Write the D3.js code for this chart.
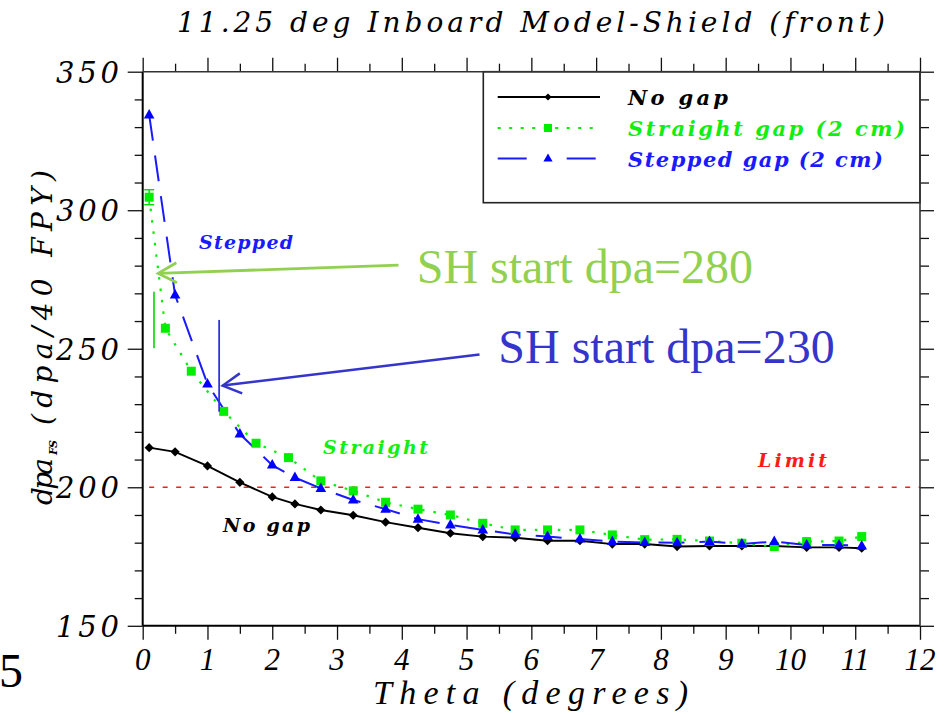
<!DOCTYPE html>
<html>
<head>
<meta charset="utf-8">
<script src="https://cdn.jsdelivr.net/npm/d3@7"></script>
<style>
  html, body { margin: 0; padding: 0; background: #fff; }
  svg { display: block; }
  .tm { font-family: "Liberation Serif", "Times New Roman", Tinos; }
  .dv { font-family: "DejaVu Serif"; }
  .it { font-style: italic; }
  .bd { font-weight: bold; }
</style>
</head>
<body>
<svg id="chart" width="951" height="715"></svg>
<script>
// Front-shield damage (dpa per 40 FPY) versus poloidal angle theta
const noGapTheta = [0.1, 0.5, 1.0, 1.5, 2.0, 2.35, 2.75, 3.25, 3.75, 4.25, 4.75, 5.25, 5.75, 6.25, 6.75, 7.25, 7.75, 8.25, 8.75, 9.25, 9.75, 10.25, 10.75, 11.1];
const noGapDpa = [214.3, 212.8, 207.7, 201.8, 196.5, 194.0, 191.8, 189.9, 187.4, 185.4, 183.4, 182.2, 181.8, 180.7, 180.7, 179.5, 179.5, 178.6, 178.8, 178.8, 178.8, 178.3, 178.3, 178.0];

const straightTheta = [0.1, 0.35, 0.75, 1.25, 1.75, 2.25, 2.75, 3.25, 3.75, 4.25, 4.75, 5.25, 5.75, 6.25, 6.75, 7.25, 7.75, 8.25, 8.75, 9.25, 9.75, 10.25, 10.75, 11.1];
const straightDpa = [304.7, 257.4, 241.9, 227.4, 215.9, 210.7, 202.3, 198.7, 194.6, 192.1, 190.0, 187.0, 184.6, 184.6, 184.6, 182.8, 181.1, 181.2, 180.6, 179.8, 178.6, 180.4, 180.6, 182.2];
const straightErrTheta = [0.1];
const straightErrLow = [302.0];
const straightErrHigh = [307.4];

const steppedTheta = [0.1, 0.5, 1.0, 1.5, 2.0, 2.35, 2.75, 3.25, 3.75, 4.25, 4.75, 5.25, 5.75, 6.25, 6.75, 7.25, 7.75, 8.25, 8.75, 9.25, 9.75, 10.25, 10.75, 11.1];
const steppedDpa = [334.4, 269.4, 237.3, 219.2, 208.0, 203.5, 199.6, 195.4, 192.1, 188.5, 186.4, 184.6, 183.0, 182.2, 181.3, 180.4, 180.1, 180.0, 180.4, 179.5, 180.4, 179.2, 179.2, 178.8];

const dpaLimit = 200;
const xTickValues = [0, 1, 2, 3, 4, 5, 6, 7, 8, 9, 10, 11, 12];
const yTickValues = [150, 200, 250, 300, 350];
const legendLabels = ["No gap", "Straight gap (2 cm)", "Stepped gap (2 cm)"];
const shStartLabels = ["SH start dpa=280", "SH start dpa=230"];

const svg = d3.select("#chart");
const plotL = 142.7, plotR = 920, plotT = 71.7, plotB = 625.8;
const x = d3.scaleLinear().domain([0, 12]).range([plotL, plotR]);
const y = d3.scaleLinear().domain([150, 350]).range([plotB, plotT]);

// ---- title ----
svg.append("text")
  .attr("class", "dv it")
  .attr("x", 177).attr("y", 32)
  .attr("textLength", 708).attr("lengthAdjust", "spacing")
  .style("font-size", "28px").attr("fill", "#000")
  .text("11.25 deg Inboard Model-Shield (front)");

// ---- ticks (outward on all four sides) ----
const majorLen = 14, minorLen = 8;
const xMinor = d3.range(0.5, 12, 1);
const yMinor = d3.range(150, 351, 10).filter(v => v % 50 !== 0);

function tickAxis(axisFn, scale, values, size, at) {
  const g = svg.append("g")
    .attr("transform", at)
    .call(axisFn(scale).tickValues(values).tickSize(size).tickSizeOuter(0).tickFormat(""));
  g.select(".domain").remove();
  g.selectAll("line").attr("stroke", "#111").attr("stroke-width", 1.3);
  return g;
}
tickAxis(d3.axisBottom, x, xTickValues, majorLen, `translate(0,${plotB})`);
tickAxis(d3.axisBottom, x, xMinor, minorLen, `translate(0,${plotB})`);
tickAxis(d3.axisTop, x, xTickValues, majorLen, `translate(0,${plotT})`);
tickAxis(d3.axisTop, x, xMinor, minorLen, `translate(0,${plotT})`);
tickAxis(d3.axisLeft, y, yTickValues, majorLen + 1, `translate(${plotL},0)`);
tickAxis(d3.axisLeft, y, yMinor, minorLen, `translate(${plotL},0)`);
tickAxis(d3.axisRight, y, yTickValues, majorLen, `translate(${plotR},0)`);
tickAxis(d3.axisRight, y, yMinor, minorLen + 1, `translate(${plotR},0)`);

// tick labels
svg.append("g").selectAll("text").data(xTickValues).join("text")
  .attr("class", "tm it")
  .attr("x", d => x(d)).attr("y", 670)
  .attr("text-anchor", "middle")
  .style("font-size", "31px").attr("fill", "#000")
  .text(d => d);

svg.append("g").selectAll("text").data(yTickValues).join("text")
  .attr("class", "dv it")
  .attr("x", 119).attr("y", d => y(d) + 11)
  .attr("text-anchor", "end")
  .attr("textLength", 63).attr("lengthAdjust", "spacing")
  .style("font-size", "29px").attr("fill", "#000")
  .text(d => d);

// axis titles
svg.append("text")
  .attr("class", "tm it")
  .attr("x", 373).attr("y", 704)
  .attr("textLength", 315).attr("lengthAdjust", "spacing")
  .style("font-size", "34px").attr("fill", "#000")
  .text("Theta (degrees)");

const yTitle = svg.append("g").attr("transform", "translate(52,505) rotate(-90)");
yTitle.append("text").attr("class", "dv it").attr("x", 0).attr("y", 0)
  .attr("textLength", 47).attr("lengthAdjust", "spacing")
  .style("font-size", "28px")
  .text("dpa");
yTitle.append("text").attr("class", "dv it bd").attr("x", 50).attr("y", 5)
  .attr("textLength", 15).attr("lengthAdjust", "spacing")
  .style("font-size", "11px")
  .text("FS");
yTitle.append("text").attr("class", "dv it").attr("x", 80).attr("y", 0)
  .attr("textLength", 255).attr("lengthAdjust", "spacing")
  .style("font-size", "28px")
  .text("(dpa/40 FPY)");

// clipped page-number digit at the lower left edge
svg.append("text").attr("class", "tm").attr("x", -1).attr("y", 687)
  .style("font-size", "48px").attr("fill", "#000")
  .text("5");

// ---- limit line ----
svg.append("line")
  .attr("x1", x(0.1)).attr("x2", plotR)
  .attr("y1", y(dpaLimit)).attr("y2", y(dpaLimit))
  .attr("stroke", "#ff1a1a").attr("stroke-width", 1.6)
  .attr("stroke-dasharray", "5,8.5");

// ---- series ----
const markers = {
  diamond: "M0,-4.6L4.6,0L0,4.6L-4.6,0Z",
  square: "M-4.5,-4.5H4.5V4.5H-4.5Z",
  triangle: "M0,-6L5.3,3.5H-5.3Z"
};
const series = [
  { theta: noGapTheta, dpa: noGapDpa, color: "#000", width: 1.9, dash: null, marker: markers.diamond, mcolor: "#000" },
  { theta: straightTheta, dpa: straightDpa, color: "#00f000", width: 2.2, dash: "2.5,9", marker: markers.square, mcolor: "#00ee00" },
  { theta: steppedTheta, dpa: steppedDpa, color: "#1a1aff", width: 2, dash: "26,15", marker: markers.triangle, mcolor: "#0000ff" }
];
const line = d3.line().x(d => x(d[0])).y(d => y(d[1]));

series.forEach(s => {
  const pts = s.theta.map((t, i) => [t, s.dpa[i]]);
  svg.append("path")
    .attr("d", line(pts))
    .attr("fill", "none")
    .attr("stroke", s.color)
    .attr("stroke-width", s.width)
    .attr("stroke-dasharray", s.dash);
});

// error bar on the first straight-gap point
straightErrTheta.forEach((t, i) => {
  const g = svg.append("g").attr("stroke", "#00e000").attr("stroke-width", 1.5);
  g.append("line").attr("x1", x(t)).attr("x2", x(t)).attr("y1", y(straightErrLow[i])).attr("y2", y(straightErrHigh[i]));
  [straightErrLow[i], straightErrHigh[i]].forEach(v =>
    g.append("line").attr("x1", x(t) - 5).attr("x2", x(t) + 5).attr("y1", y(v)).attr("y2", y(v)));
});

series.forEach(s => {
  svg.append("g").selectAll("path")
    .data(s.theta.map((t, i) => [t, s.dpa[i]]))
    .join("path")
    .attr("transform", d => `translate(${x(d[0])},${y(d[1])})`)
    .attr("d", s.marker)
    .attr("fill", s.mcolor);
});

// ---- in-plot series labels ----
const labelText = (px, py, width, color, text, size) => svg.append("text")
  .attr("class", "dv it bd")
  .attr("x", px).attr("y", py)
  .attr("textLength", width).attr("lengthAdjust", "spacing")
  .style("font-size", size + "px").attr("fill", color)
  .text(text);
labelText(199, 249, 94, "#1a1aff", "Stepped", 19);
labelText(323, 454, 105, "#11ee11", "Straight", 19);
labelText(223, 532, 87, "#000", "No gap", 19);
labelText(758, 467, 69, "#ff1a1a", "Limit", 19);

// ---- legend ----
const legend = svg.append("g");
legend.append("rect")
  .attr("x", 483.3).attr("y", plotT).attr("width", plotR - 483.3).attr("height", 131)
  .attr("fill", "#fff").attr("stroke", "#222").attr("stroke-width", 1.6);
const rowY = [97, 128, 158.5];
const textW = [100, 277, 255];
const legendDash = [null, "3,8.5", "29,40"];
const legendColors = ["#000", "#11ee11", "#1a1aff"];
const legendMarkers = [
  "M0,-3.6L3.6,0L0,3.6L-3.6,0Z",
  "M-4,-4H4V4H-4Z",
  "M0,-5L4.6,3H-4.6Z"
];
legendLabels.forEach((lab, i) => {
  const s = series[i];
  legend.append("line")
    .attr("x1", 497.7).attr("x2", 600).attr("y1", rowY[i]).attr("y2", rowY[i])
    .attr("stroke", s.color).attr("stroke-width", s.width)
    .attr("stroke-dasharray", legendDash[i]);
  legend.append("path")
    .attr("transform", `translate(548,${rowY[i]})`)
    .attr("d", legendMarkers[i]).attr("fill", s.mcolor);
  legend.append("text")
    .attr("class", "dv it bd")
    .attr("x", 628).attr("y", rowY[i] + 8)
    .attr("textLength", textW[i]).attr("lengthAdjust", "spacing")
    .style("font-size", "21px").attr("fill", legendColors[i])
    .text(lab);
});

// ---- SH start annotations ----
function arrow(g, tail, tip, color, w) {
  const [x0, y0] = [x(tail[0]), y(tail[1])];
  const [x1, y1] = [x(tip[0]), y(tip[1])];
  const ang = Math.atan2(y0 - y1, x0 - x1);
  const len = 21, spread = 0.5;
  g.append("line").attr("x1", x0).attr("y1", y0).attr("x2", x1).attr("y2", y1)
    .attr("stroke", color).attr("stroke-width", w);
  g.append("path")
    .attr("d", `M${x1 + len * Math.cos(ang - spread)},${y1 + len * Math.sin(ang - spread)}` +
               `L${x1},${y1}L${x1 + len * Math.cos(ang + spread)},${y1 + len * Math.sin(ang + spread)}`)
    .attr("fill", "none").attr("stroke", color).attr("stroke-width", w);
}
const ann = svg.append("g");
// straight gap: start of shield replacement region
ann.append("line").attr("x1", x(0.174)).attr("x2", x(0.174)).attr("y1", y(270.6)).attr("y2", y(250.2))
  .attr("stroke", "#33dd33").attr("stroke-width", 2);
arrow(ann, [3.95, 280.2], [0.24, 277.2], "#92d050", 2.8);
ann.append("text").attr("class", "tm").attr("x", x(4.23)).attr("y", y(273.6))
  .style("font-size", "48px").attr("fill", "#92d050")
  .text(shStartLabels[0]);
// stepped gap
ann.append("line").attr("x1", x(1.18)).attr("x2", x(1.18)).attr("y1", y(260.4)).attr("y2", y(227.3))
  .attr("stroke", "#3333dd").attr("stroke-width", 1.8);
arrow(ann, [5.2, 247.9], [1.235, 236.7], "#3535cc", 2.5);
ann.append("text").attr("class", "tm").attr("x", x(5.49)).attr("y", y(244.7))
  .style("font-size", "48px").attr("fill", "#3535cc")
  .text(shStartLabels[1]);

// ---- plot frame ----
svg.append("line").attr("x1", plotL).attr("x2", plotL).attr("y1", plotT).attr("y2", plotB)
  .attr("stroke", "#000").attr("stroke-width", 2);
svg.append("line").attr("x1", plotL).attr("x2", plotR).attr("y1", plotB).attr("y2", plotB)
  .attr("stroke", "#000").attr("stroke-width", 2);
svg.append("line").attr("x1", plotL).attr("x2", plotR).attr("y1", plotT).attr("y2", plotT)
  .attr("stroke", "#333").attr("stroke-width", 1.6);
svg.append("line").attr("x1", plotR).attr("x2", plotR).attr("y1", plotT).attr("y2", plotB)
  .attr("stroke", "#333").attr("stroke-width", 1.6);
</script>
</body>
</html>
